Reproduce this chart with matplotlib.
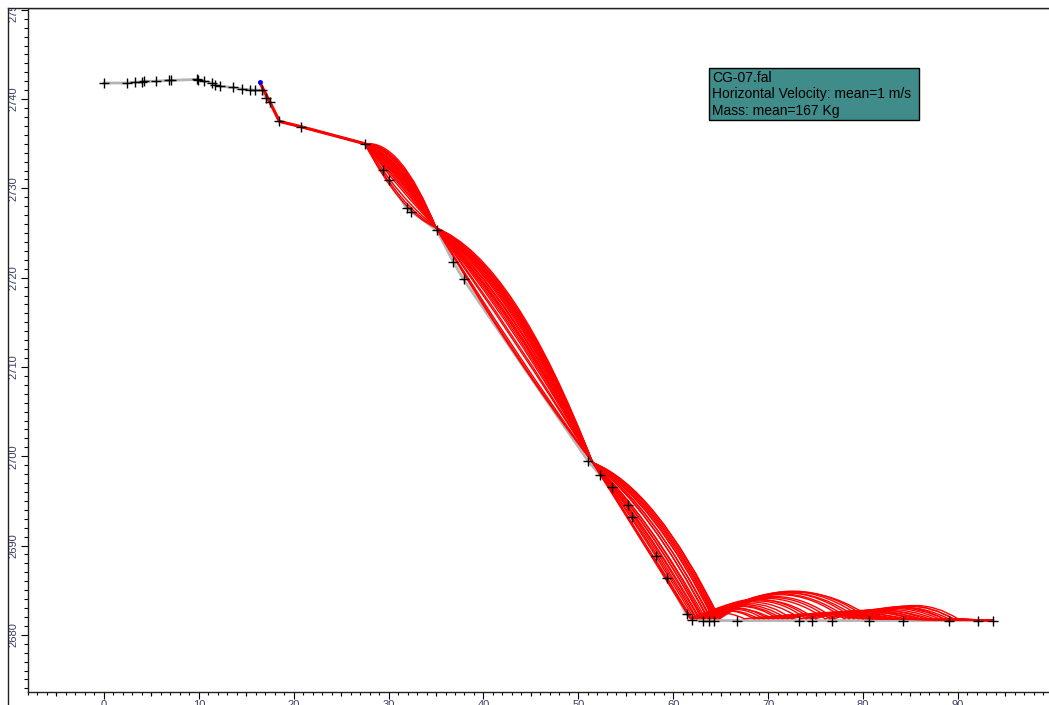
import matplotlib
matplotlib.use("Agg")
import matplotlib.pyplot as plt
from matplotlib.path import Path
from matplotlib.patches import PathPatch, Rectangle
from matplotlib.lines import Line2D
from matplotlib.ticker import MultipleLocator, FixedLocator

plt.rcParams['font.family'] = ['Liberation Sans', 'DejaVu Sans']

# slope profile: distance (m), elevation (m)
terrain_x = [0.0, 2.4, 3.3, 4.0, 4.2, 5.5, 6.9, 7.1, 9.8, 9.9, 10.6, 11.4, 11.7, 12.2,
             13.6, 14.6, 15.4, 15.9, 16.7, 17.1, 17.5, 18.5, 20.8, 27.5, 29.4, 30.0,
             31.9, 32.4, 35.1, 36.8, 37.9, 51.0, 52.3, 53.5, 55.2, 55.7, 58.2, 59.3,
             61.4, 62.0, 63.15, 63.8, 64.3, 66.7, 73.3, 74.6, 76.7, 80.6, 84.2, 89.1,
             92.1, 93.7]
terrain_y = [2741.8, 2741.8, 2741.9, 2741.9, 2742.0, 2742.0, 2742.1, 2742.1, 2742.2, 2742.1,
             2742.0, 2741.8, 2741.6, 2741.45, 2741.3, 2741.1, 2741.05, 2741.0, 2741.0,
             2740.1, 2739.7, 2737.5, 2736.9, 2735.0, 2732.1, 2730.9, 2727.8, 2727.4,
             2725.3, 2721.8, 2719.8, 2699.5, 2697.9, 2696.6, 2694.5, 2693.2, 2688.8,
             2686.4, 2682.3, 2681.7, 2681.6, 2681.6, 2681.6, 2681.6, 2681.6, 2681.6,
             2681.6, 2681.6, 2681.6, 2681.6, 2681.6, 2681.6]

# common start of all fall paths (release point down to first flight)
start_x = [16.4, 17.0, 18.5, 20.8, 27.5]
start_y = [2741.9, 2740.7, 2737.5, 2736.9, 2735.0]

# impact points every path passes through
hit_a = (35.0, 2725.6)
hit_b = (51.5, 2699.3)
ground_y = 2681.8
end_pt = (93.7, 2681.6)

# per path: rise of each flight arc above its chord (m) and landing distances (m)
bulge_a = [2.6, 2.2, 2.4, 1.8, 2.0, 1.5, 1.7, 1.0, 1.25, 0.7, 0.85, 0.2,
           0.45, -0.3, 2.3, 1.35, 0.55, -0.8, 1.6, 0.0, -1.2, 1.1, 2.1, -1.5]
bulge_b = [4.8, 4.4, 4.0, 4.6, 3.6, 4.2, 3.2, 2.7, 3.8, 2.2, 3.0, 1.8,
           1.2, 0.4, 4.3, 2.5, 1.5, -0.4, 3.4, 0.7, -0.9, 2.0, 3.9, -0.7]
land_c = [64.8, 64.5, 64.2, 64.9, 63.9, 64.6, 63.6, 63.2, 64.3, 63.0, 63.7, 62.8,
          62.5, 62.2, 64.7, 63.4, 62.7, 61.9, 64.0, 62.4, 61.8, 63.1, 64.4, 62.0]
bulge_c = [3.0, 2.7, 2.4, 2.9, 2.1, 2.6, 1.9, 1.5, 2.25, 1.3, 1.8, 1.0,
           0.8, 0.45, 2.8, 1.4, 0.9, 0.1, 2.0, 0.55, 0.0, 1.15, 2.5, 0.2]
hop1_x = [80.5, 78.0, 76.5, 81.0, 74.0, 79.5, 72.5, 71.0, 77.0, 69.5, 75.0, 68.5,
          73.5, 70.0, 80.0, 76.0, 72.0, 67.5, 78.5, 71.5, 69.0, 74.5, 79.0, 70.5]
hop1_h = [3.1, 2.7, 2.4, 3.0, 2.0, 2.9, 1.7, 1.4, 2.5, 1.1, 2.1, 0.9,
          1.9, 1.3, 3.05, 2.3, 1.6, 0.7, 2.8, 1.5, 1.0, 2.2, 2.95, 1.2]
hop2_x = [89.5, 88.0, 86.5, 90.0, 85.0, 89.0, 84.0, 83.0, 87.5, 82.0, 86.0, 81.0,
          85.5, 82.5, 89.5, 87.0, 84.5, 80.0, 88.5, 83.5, 81.5, 86.0, 88.5, 82.5]
hop2_h = [1.4, 1.2, 1.0, 1.5, 0.9, 1.3, 0.8, 0.7, 1.1, 0.6, 0.95, 0.5,
          0.85, 0.6, 1.45, 1.0, 0.75, 0.4, 1.25, 0.7, 0.5, 0.9, 1.35, 0.55]

box_lines = ["CG-07.fal", "Horizontal Velocity: mean=1 m/s", "Mass: mean=167 Kg"]

W, H = 1049, 705
fig = plt.figure(figsize=(W / 100, H / 100), dpi=100)
ax = fig.add_axes([28 / W, 13 / H, 1 - 28 / W, (692 - 8) / H])
ax.set_xlim(-8.0, 99.6)
ax.set_ylim(2673.6, 2750.2)

# terrain
ax.plot(terrain_x, terrain_y, color='#b5b5b5', lw=2, zorder=1)


def add_arc(verts, codes, x1, y1, bulge):
    x0, y0 = verts[-1]
    verts += [((x0 + x1) / 2, (y0 + y1) / 2 + 2 * bulge), (x1, y1)]
    codes += [Path.CURVE3, Path.CURVE3]


for i in range(len(bulge_a)):
    verts = list(zip(start_x, start_y))
    codes = [Path.MOVETO] + [Path.LINETO] * (len(start_x) - 1)
    add_arc(verts, codes, hit_a[0], hit_a[1], bulge_a[i])
    add_arc(verts, codes, hit_b[0], hit_b[1], bulge_b[i])
    add_arc(verts, codes, land_c[i], ground_y, bulge_c[i])
    add_arc(verts, codes, hop1_x[i], ground_y, hop1_h[i])
    add_arc(verts, codes, hop2_x[i], ground_y, hop2_h[i])
    verts.append(end_pt)
    codes.append(Path.LINETO)
    ax.add_patch(PathPatch(Path(verts, codes), fill=False, edgecolor='red', lw=1.0, zorder=2))

ax.plot(start_x, start_y, color='red', lw=2.2, zorder=2, solid_capstyle='round')
ax.plot(start_x[:1], start_y[:1], 'o', color='blue', ms=2.5, zorder=3)
ax.plot(terrain_x, terrain_y, '+', color='black', ms=7, mew=1.0, zorder=4)

# axes styling
ax.spines['right'].set_visible(False)
for s in ['left', 'bottom', 'top']:
    ax.spines[s].set_linewidth(1.0)
    ax.spines[s].set_color('#222222')

ax.xaxis.set_major_locator(MultipleLocator(10))
ax.xaxis.set_minor_locator(MultipleLocator(1))
ax.yaxis.set_major_locator(MultipleLocator(10))
ax.yaxis.set_minor_locator(MultipleLocator(1))
ax.tick_params(axis='x', which='major', direction='out', length=4.8, width=0.8,
               pad=1, labelsize=8, labelcolor='#3a4060')
ax.tick_params(axis='x', which='minor', direction='out', length=2.0, width=0.8)
ax.tick_params(axis='y', which='major', direction='out', length=4.8, width=0.8,
               pad=2.0, labelsize=8, labelcolor='#3a4060', labelrotation=90)
ax.tick_params(axis='y', which='minor', direction='out', length=3.1, width=0.8)
for lab in ax.get_yticklabels():
    lab.set_va('center')

# medium ticks every 5 m on the distance axis
sec = ax.secondary_xaxis('bottom')
sec.xaxis.set_major_locator(FixedLocator(list(range(-5, 100, 10))))
sec.tick_params(axis='x', direction='out', length=3.2, width=0.8, labelbottom=False)
sec.spines['bottom'].set_visible(False)

# mask above the top frame, then draw the outer frame
fig.add_artist(Rectangle((0, 1 - 8 / H), 1, 8 / H, transform=fig.transFigure,
                         facecolor='white', edgecolor='none', zorder=5))
fig.add_artist(Line2D([8 / W, 1], [1 - 8 / H, 1 - 8 / H], transform=fig.transFigure,
                      color='#222222', lw=1.0, zorder=6))
fig.add_artist(Line2D([8 / W, 8 / W], [0, 1 - 8 / H], transform=fig.transFigure,
                      color='#222222', lw=1.0, zorder=6))

# info box
fig.add_artist(Rectangle((709 / W, 1 - 120 / H), 210 / W, 52 / H, transform=fig.transFigure,
                         facecolor='#3f8c8a', edgecolor='black', lw=1.0, zorder=6))
fig.text(712 / W, 1 - 71 / H, "\n".join(box_lines), ha='left', va='top', fontsize=10,
         color='black', linespacing=1.22, zorder=7)

fig.savefig("out.png", dpi=100)
